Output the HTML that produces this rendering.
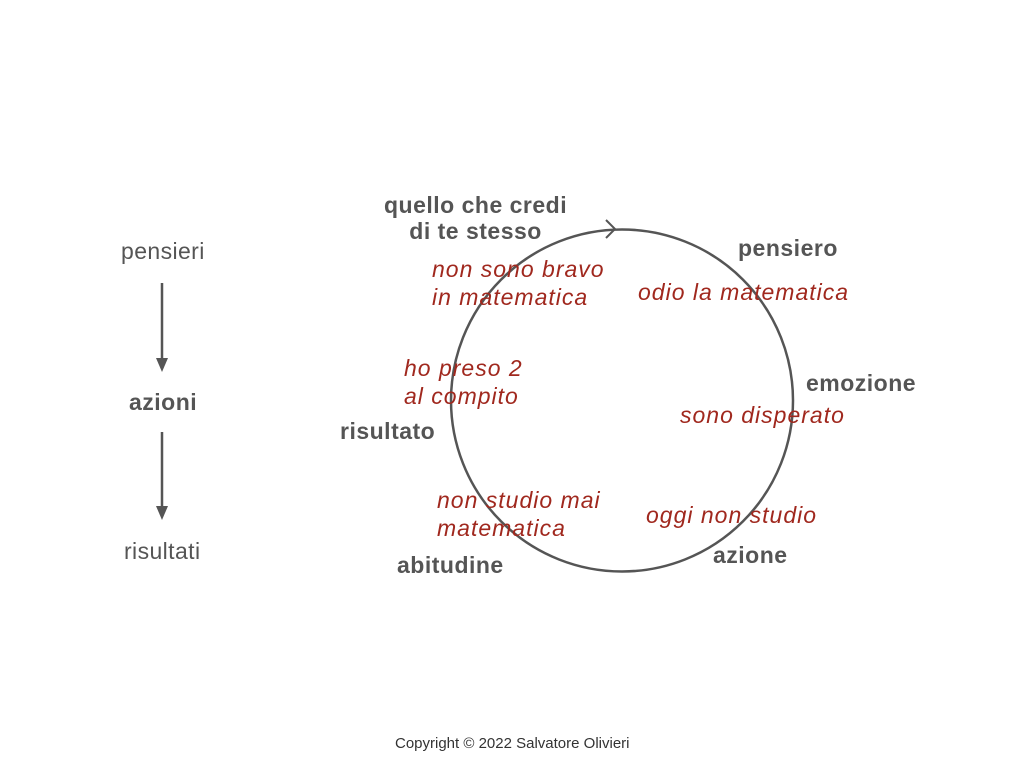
<!DOCTYPE html>
<html><head><meta charset="utf-8"><style>
body{margin:0;width:1024px;height:768px;background:#fff;position:relative;font-family:"Liberation Sans",sans-serif;overflow:hidden}
.t{position:absolute;white-space:nowrap;font-size:23px;letter-spacing:0.4px;color:#555}
.b{font-weight:bold;color:#555;letter-spacing:0.5px}
.r{color:#a0281e;font-style:italic;font-size:23px;letter-spacing:1px;line-height:28px}
</style></head><body>
<svg width="1024" height="768" style="position:absolute;left:0;top:0">
<circle cx="622" cy="400.5" r="171" fill="none" stroke="#555" stroke-width="2.5"/>
<polyline points="606,220 615,229 606,238" fill="none" stroke="#555" stroke-width="2"/>
<line x1="162" y1="283" x2="162" y2="360" stroke="#555" stroke-width="2.5"/>
<polygon points="156,358 168,358 162,372" fill="#555"/>
<line x1="162" y1="432" x2="162" y2="508" stroke="#555" stroke-width="2.5"/>
<polygon points="156,506 168,506 162,520" fill="#555"/>
</svg>
<div class="t" style="left:121px;top:238px">pensieri</div>
<div class="t b" style="left:129px;top:389px">azioni</div>
<div class="t" style="left:124px;top:538px">risultati</div>
<div class="t b" style="left:384px;top:192px;text-align:center;line-height:26px">quello che credi<br>di te stesso</div>
<div class="t b" style="left:738px;top:235px">pensiero</div>
<div class="t b" style="left:806px;top:370px">emozione</div>
<div class="t b" style="left:713px;top:542px">azione</div>
<div class="t b" style="left:397px;top:552px">abitudine</div>
<div class="t b" style="left:340px;top:418px">risultato</div>
<div class="t r" style="left:432px;top:255px">non sono bravo<br>in matematica</div>
<div class="t r" style="left:638px;top:278px">odio la matematica</div>
<div class="t r" style="left:404px;top:354px">ho preso 2<br>al compito</div>
<div class="t r" style="left:680px;top:401px">sono disperato</div>
<div class="t r" style="left:437px;top:486px">non studio mai<br>matematica</div>
<div class="t r" style="left:646px;top:501px">oggi non studio</div>
<div class="t" style="left:395px;top:735px;font-size:15px;letter-spacing:0;color:#333">Copyright © 2022 Salvatore Olivieri</div>
</body></html>
